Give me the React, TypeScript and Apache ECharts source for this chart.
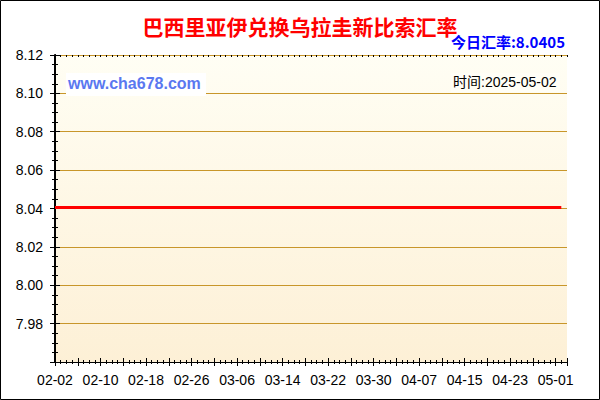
import React, { useEffect, useRef } from "react";
import * as echarts from "echarts";

// tick labels on the date axis (one every 8 days, starting 02-02)
const tickLabels = [
  "02-02", "02-10", "02-18", "02-26", "03-06", "03-14",
  "03-22", "03-30", "04-07", "04-15", "04-23", "05-01",
];

// daily rate 02-02 .. 05-02 (flat in the picture)
const rates = [
  8.0405, 8.0405, 8.0405, 8.0405, 8.0405, 8.0405, 8.0405, 8.0405, 8.0405, 8.0405,
  8.0405, 8.0405, 8.0405, 8.0405, 8.0405, 8.0405, 8.0405, 8.0405, 8.0405, 8.0405,
  8.0405, 8.0405, 8.0405, 8.0405, 8.0405, 8.0405, 8.0405, 8.0405, 8.0405, 8.0405,
  8.0405, 8.0405, 8.0405, 8.0405, 8.0405, 8.0405, 8.0405, 8.0405, 8.0405, 8.0405,
  8.0405, 8.0405, 8.0405, 8.0405, 8.0405, 8.0405, 8.0405, 8.0405, 8.0405, 8.0405,
  8.0405, 8.0405, 8.0405, 8.0405, 8.0405, 8.0405, 8.0405, 8.0405, 8.0405, 8.0405,
  8.0405, 8.0405, 8.0405, 8.0405, 8.0405, 8.0405, 8.0405, 8.0405, 8.0405, 8.0405,
  8.0405, 8.0405, 8.0405, 8.0405, 8.0405, 8.0405, 8.0405, 8.0405, 8.0405, 8.0405,
  8.0405, 8.0405, 8.0405, 8.0405, 8.0405, 8.0405, 8.0405, 8.0405, 8.0405, 8.0405,
];

const yMin = 7.96;
const yMax = 8.12;
const yStep = 0.02;

const GOLD = "#c8962a";
const LATIN = "Arial, 'Liberation Sans', sans-serif";
const CJK = "'Noto Sans CJK SC', sans-serif";

const App = () => {
  const chartRef = useRef<HTMLDivElement>(null);

  useEffect(() => {
    if (!chartRef.current) return;
    const myChart = echarts.init(chartRef.current, null, { renderer: "svg" });

    const blackLine = { lineStyle: { color: "#000", width: 1 } };

    // shared bits for the stacked axes (ticks crossing the axis line)
    const xBase = {
      type: "value" as const,
      min: 0,
      max: 90,
      interval: 4,
      gridIndex: 0,
    };
    const yBase = {
      type: "value" as const,
      min: yMin,
      max: yMax,
      interval: yStep,
      gridIndex: 0,
    };

    const option: any = {
      animation: false,
      backgroundColor: "#fff",
      title: {
        text: "巴西里亚伊兑换乌拉圭新比索汇率",
        left: "center",
        top: 10,
        textStyle: {
          color: "#ff0000",
          fontSize: 21,
          fontWeight: "bold",
          fontFamily: CJK,
        },
      },
      grid: {
        left: 55,
        right: 33,
        top: 55,
        bottom: 38,
        show: true,
        borderWidth: 0,
        backgroundColor: {
          type: "linear",
          x: 0,
          y: 0,
          x2: 0,
          y2: 1,
          colorStops: [
            { offset: 0, color: "#fffef4" },
            { offset: 1, color: "#fdf0d6" },
          ],
        },
      },
      xAxis: [
        {
          ...xBase,
          position: "bottom",
          axisLine: blackLine,
          axisTick: { inside: false, length: 4, lineStyle: { color: "#000" } },
          minorTick: { show: true, splitNumber: 4, length: 2, lineStyle: { color: "#000" } },
          splitLine: { show: false },
          axisLabel: {
            margin: 11,
            color: "#000",
            fontSize: 14,
            fontFamily: LATIN,
            showMaxLabel: false,
            formatter: (v: number) => (v % 8 === 0 ? tickLabels[v / 8] ?? "" : ""),
          },
        },
        {
          ...xBase,
          position: "bottom",
          axisLine: blackLine,
          axisTick: { inside: true, length: 4, lineStyle: { color: "#000" } },
          minorTick: { show: true, splitNumber: 4, length: 2, lineStyle: { color: "#000" } },
          splitLine: { show: false },
          axisLabel: { show: false },
        },
        {
          ...xBase,
          position: "top",
          axisLine: { lineStyle: { color: GOLD, width: 1 } },
          axisTick: { inside: true, length: 2, lineStyle: { color: "#000" } },
          minorTick: { show: true, splitNumber: 4, length: 2, lineStyle: { color: "#000" } },
          splitLine: { show: false },
          axisLabel: { show: false },
        },
      ],
      yAxis: [
        {
          ...yBase,
          position: "left",
          axisLine: { show: true, ...blackLine },
          axisTick: { show: true, inside: false, length: 5, lineStyle: { color: "#000" } },
          minorTick: { show: true, splitNumber: 4, length: 3, lineStyle: { color: "#000" } },
          splitLine: { show: true, lineStyle: { color: GOLD, width: 1 } },
          axisLabel: {
            margin: 12,
            color: "#000",
            fontSize: 14,
            fontFamily: LATIN,
            showMinLabel: false,
            formatter: (v: number) => v.toFixed(2),
          },
        },
        {
          ...yBase,
          position: "left",
          axisLine: { show: true, ...blackLine },
          axisTick: { show: true, inside: true, length: 5, lineStyle: { color: "#000" } },
          minorTick: { show: true, splitNumber: 4, length: 3, lineStyle: { color: "#000" } },
          splitLine: { show: false },
          axisLabel: { show: false },
        },
        {
          ...yBase,
          position: "right",
          axisLine: { show: true, lineStyle: { color: "#000", width: 2 } },
          axisTick: { show: true, inside: true, length: 3, lineStyle: { color: "#000" } },
          minorTick: { show: true, splitNumber: 4, length: 3, lineStyle: { color: "#000" } },
          splitLine: { show: false },
          axisLabel: { show: false },
        },
      ],
      series: [
        {
          name: "汇率",
          type: "line",
          xAxisIndex: 0,
          yAxisIndex: 0,
          showSymbol: false,
          lineStyle: { color: "#ff0000", width: 3 },
          itemStyle: { color: "#ff0000" },
          data: rates.map((v, i) => [i, v]),
          z: 5,
        },
      ],
      graphic: [
        {
          type: "rect",
          shape: { x: 0.5, y: 0.5, width: 599, height: 399 },
          style: { fill: "none", stroke: "#000", lineWidth: 1 },
          silent: true,
        },
        {
          type: "text",
          right: 35,
          top: 34,
          style: {
            text: "今日汇率:8.0405",
            fill: "#0000ff",
            font: `bold 15px ${CJK}`,
          },
        },
        {
          type: "rect",
          shape: { x: 66, y: 73, width: 140, height: 23 },
          style: { fill: "#fff" },
          z: 10,
        },
        {
          type: "text",
          x: 68,
          y: 75,
          z: 11,
          style: {
            text: "www.cha678.com",
            fill: "#5a78f0",
            font: `bold 16px ${LATIN}`,
          },
        },
        {
          type: "rect",
          shape: { x: 451, y: 73, width: 109, height: 19 },
          style: { fill: "#fffef6" },
          z: 10,
        },
        {
          type: "text",
          x: 453,
          y: 75,
          z: 11,
          style: {
            text: "时间:2025-05-02",
            fill: "#000",
            font: `14px ${LATIN}, ${CJK}`,
          },
        },
      ],
    };

    myChart.setOption(option);

    return () => {
      myChart.dispose();
    };
  }, []);

  return (
    <div
      ref={chartRef}
      style={{ position: "absolute", left: 0, top: 0, width: "600px", height: "400px" }}
    />
  );
};

export default App;
